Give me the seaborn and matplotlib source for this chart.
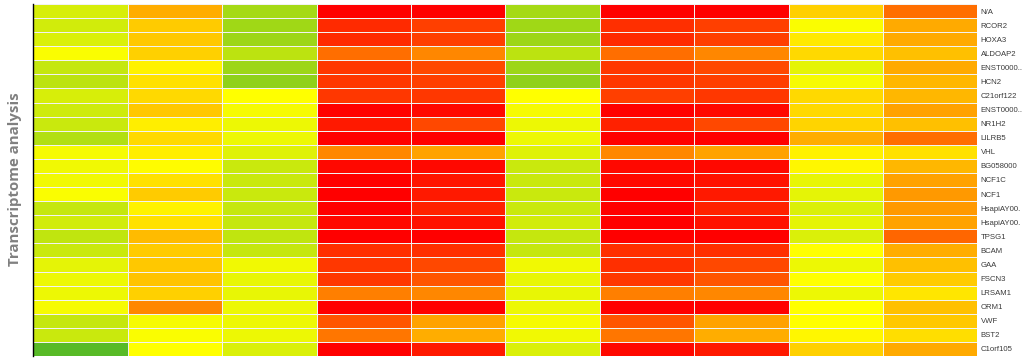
import numpy as np
import pandas as pd
import matplotlib
matplotlib.use("Agg")
import matplotlib.pyplot as plt
import seaborn as sns
from matplotlib.colors import LinearSegmentedColormap

genes = ["N/A", "RCOR2", "HOXA3", "ALDOAP2", "ENST0000..", "HCN2", "C21orf122",
         "ENST0000..", "NR1H2", "LILRB5", "VHL", "BG058000", "NCF1C", "NCF1",
         "HsapiAY00.", "HsapiAY00.", "TPSG1", "BCAM", "GAA", "FSCN3", "LRSAM1",
         "ORM1", "VWF", "BST2", "C1orf105"]

samples = ["S1", "S2", "S3", "S4", "S5", "S6", "S7", "S8", "S9", "S10"]

s1 = [31, 30, 32, 39, 27, 25, 31, 29, 28, 23, 38, 37, 37, 39, 27, 30, 26, 28, 34, 36, 36, 38, 27, 28, 3]
s2 = [59, 52, 53, 51, 43, 47, 49, 53, 44, 49, 44, 41, 47, 52, 43, 47, 56, 52, 53, 54, 51, 68, 38, 39, 40]
s3 = [20, 19, 18, 25, 18, 15, 40, 38, 36, 36, 33, 28, 28, 28, 27, 27, 26, 27, 37, 35, 35, 36, 36, 36, 32]
s4 = [100, 90, 90, 74, 87, 87, 87, 100, 94, 100, 68, 98, 100, 100, 100, 98, 100, 89, 87, 87, 70, 100, 80, 72, 100]
s5 = [100, 85, 85, 68, 83, 85, 87, 98, 83, 100, 62, 98, 95, 94, 92, 96, 100, 89, 83, 80, 68, 100, 62, 59, 94]
s6 = [20, 19, 18, 25, 18, 15, 40, 38, 36, 36, 33, 28, 28, 28, 28, 30, 27, 27, 37, 35, 35, 36, 38, 37, 32]
s7 = [100, 89, 90, 74, 87, 87, 85, 100, 92, 100, 68, 98, 98, 100, 100, 100, 100, 89, 89, 87, 70, 100, 80, 72, 98]
s8 = [100, 85, 85, 68, 83, 85, 87, 98, 83, 100, 62, 98, 96, 94, 92, 96, 100, 89, 83, 80, 68, 100, 62, 59, 94]
s9 = [51, 39, 45, 49, 34, 38, 49, 49, 50, 59, 43, 42, 35, 34, 32, 34, 32, 40, 36, 40, 36, 40, 40, 42, 51]
s10 = [74, 60, 60, 55, 60, 57, 57, 62, 55, 74, 47, 57, 62, 64, 64, 62, 76, 59, 55, 52, 46, 55, 53, 48, 60]

data = pd.DataFrame(
    np.array([s1, s2, s3, s4, s5, s6, s7, s8, s9, s10]).T,
    columns=samples,
)

cmap = LinearSegmentedColormap.from_list(
    "gyr", [(0.0, "#4cb52a"), (0.4, "#ffff00"), (1.0, "#ff0000")]
)

fig = plt.figure(figsize=(10.24, 3.6), dpi=100)
ax = fig.add_axes([33.3 / 1024, 1 - 356 / 360, (977.3 - 33.3) / 1024, 352 / 360])

sns.heatmap(data, ax=ax, cmap=cmap, vmin=0, vmax=100, cbar=False,
            linewidths=0.5, linecolor="#f2f2f2",
            xticklabels=False, yticklabels=genes)

ax.yaxis.tick_right()
ax.tick_params(axis="y", length=0, pad=2.5, labelsize=5.6, labelcolor="#3a3a3a")
for lab in ax.get_yticklabels():
    lab.set_rotation(0)
    lab.set_fontfamily("Liberation Sans")
ax.set_ylabel("")
ax.set_xlabel("")
ax.spines["left"].set_visible(True)
ax.spines["left"].set_color("black")
ax.spines["left"].set_linewidth(1.0)

fig.text(15 / 1024, 0.503, "Transcriptome analysis", rotation=90,
         ha="center", va="center", fontsize=10.8, fontweight="bold",
         color="#808080", family="Open Sans")

fig.savefig("out.png", dpi=100)
